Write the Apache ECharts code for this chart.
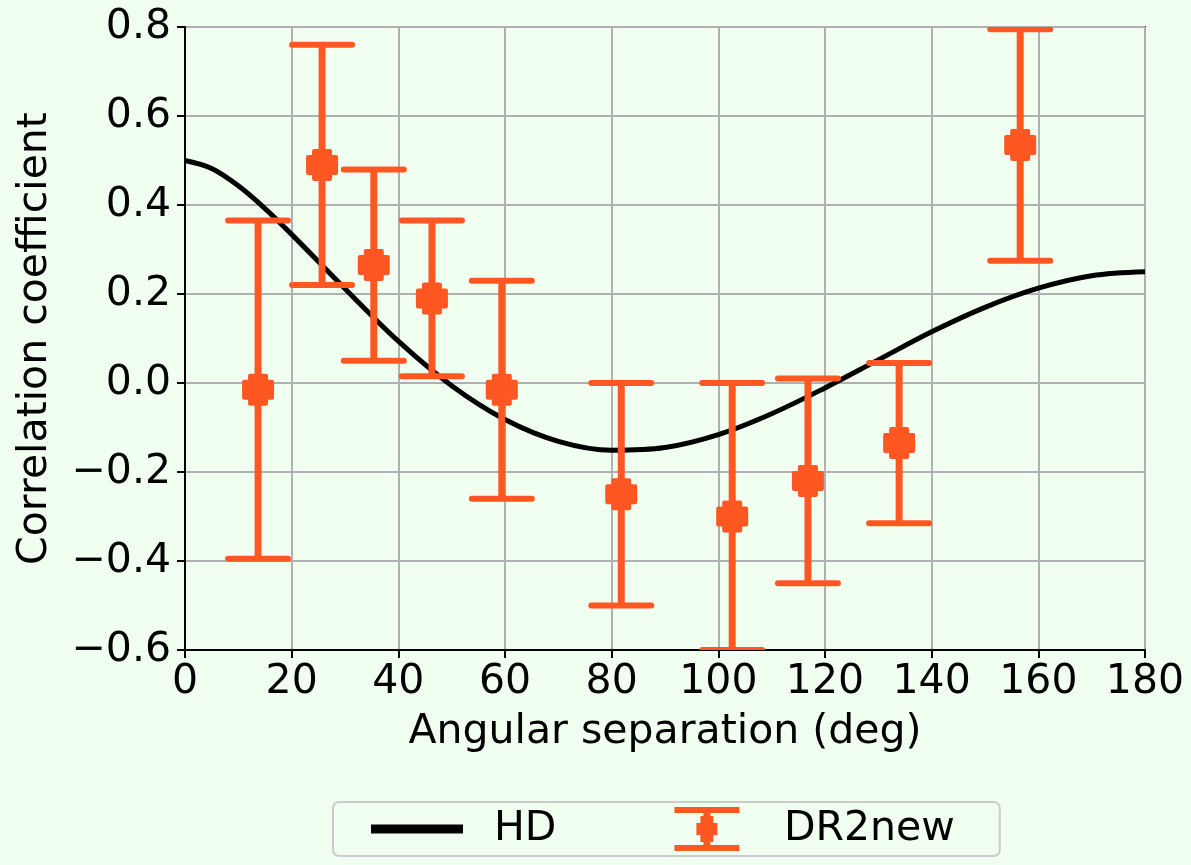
<!DOCTYPE html>
<html>
<head>
<meta charset="utf-8">
<script src="https://cdn.jsdelivr.net/npm/echarts@6/dist/echarts.min.js"></script>
<style>
html,body{margin:0;padding:0;background:#f0fff0;}
#main{width:1191px;height:865px;}
</style>
</head>
<body>
<div id="main"></div>
<script>
// Hellings-Downs curve (angle in deg, correlation)
const hdAngles = [0, 5, 10, 15, 20, 30, 40, 50, 60, 70, 80, 90, 100, 110, 120, 130, 140, 150, 160, 170, 180];
const hdValues = [0.5, 0.482, 0.443, 0.392, 0.334, 0.212, 0.094, -0.006, -0.082, -0.131, -0.151, -0.145, -0.116, -0.069, -0.011, 0.052, 0.115, 0.170, 0.213, 0.241, 0.25];

// DR2new binned correlations
const binAngles = [13.7, 25.7, 35.4, 46.3, 59.4, 81.8, 102.6, 116.8, 133.9, 156.6];
const binValues = [-0.015, 0.49, 0.265, 0.19, -0.015, -0.25, -0.30, -0.22, -0.135, 0.535];
const binErrors = [0.38, 0.27, 0.215, 0.175, 0.245, 0.25, 0.30, 0.23, 0.18, 0.26];

const xTicks = [0, 20, 40, 60, 80, 100, 120, 140, 160, 180];
const yTicks = [-0.6, -0.4, -0.2, 0.0, 0.2, 0.4, 0.6, 0.8];

const ORANGE = '#ff5722';
const FONT = 'DejaVu Sans';
const FS = 41;

const chart = echarts.init(document.getElementById('main'), null, {renderer: 'canvas'});

const hdData = hdAngles.map((a, i) => [a, hdValues[i]]);
const errData = binAngles.map((a, i) => [a, binValues[i], binValues[i] - binErrors[i], binValues[i] + binErrors[i]]);

function renderErr(params, api) {
  const x = api.value(0);
  const c = api.coord([x, api.value(1)]);
  const lo = api.coord([x, api.value(2)]);
  const hi = api.coord([x, api.value(3)]);
  const capHalf = 30;
  const s = {stroke: ORANGE, lineWidth: 7, lineCap: 'butt'};
  const capStyle = {stroke: ORANGE, lineWidth: 6, lineCap: 'round'};
  const a = 14, b = 8;
  const pts = [[-b,-a],[b,-a],[b,-b],[a,-b],[a,b],[b,b],[b,a],[-b,a],[-b,b],[-a,b],[-a,-b],[-b,-b]]
    .map(p => [c[0] + p[0], c[1] + p[1]]);
  return {
    type: 'group',
    children: [
      {type: 'line', shape: {x1: c[0], y1: lo[1], x2: c[0], y2: hi[1]}, style: s},
      {type: 'line', shape: {x1: c[0]-capHalf, y1: lo[1], x2: c[0]+capHalf, y2: lo[1]}, style: capStyle},
      {type: 'line', shape: {x1: c[0]-capHalf, y1: hi[1], x2: c[0]+capHalf, y2: hi[1]}, style: capStyle},
      {type: 'polygon', shape: {points: pts}, style: {fill: ORANGE, stroke: ORANGE, lineWidth: 4, lineJoin: 'round'}}
    ]
  };
}

const fmtY = v => {
  const r = Math.round(v * 10) / 10;
  return (r < 0 ? '\u2212' : '') + Math.abs(r).toFixed(1);
};

const option = {
  backgroundColor: '#f0fff0',
  animation: false,
  textStyle: {fontFamily: FONT},
  grid: {
    left: 185, right: 46, top: 27, bottom: 215,
    show: true, borderColor: '#000', borderWidth: 2, backgroundColor: 'transparent'
  },
  xAxis: {
    type: 'value', min: 0, max: 180, interval: 20,
    name: 'Angular separation (deg)', nameLocation: 'middle', nameGap: 62,
    nameTextStyle: {fontSize: FS, color: '#000', fontFamily: FONT},
    axisLine: {show: true, onZero: false, lineStyle: {color: '#000', width: 2}},
    axisTick: {show: true, length: 8, lineStyle: {color: '#000', width: 2}},
    axisLabel: {fontSize: FS, color: '#000', margin: 12, fontFamily: FONT,
      formatter: v => String(v)},
    splitLine: {show: true, lineStyle: {color: '#b0b0b0', width: 2}}
  },
  yAxis: {
    type: 'value', min: -0.6, max: 0.8, interval: 0.2,
    name: 'Correlation coefficient', nameLocation: 'middle', nameGap: 129,
    nameTextStyle: {fontSize: FS, color: '#000', fontFamily: FONT},
    axisLine: {show: true, onZero: false, lineStyle: {color: '#000', width: 2}},
    axisTick: {show: true, length: 8, lineStyle: {color: '#000', width: 2}},
    axisLabel: {fontSize: FS, color: '#000', margin: 14, fontFamily: FONT, formatter: fmtY},
    splitLine: {show: true, lineStyle: {color: '#b0b0b0', width: 2}}
  },
  legend: {
    left: 333, top: 802,
    padding: [5, 45, 5, 38],
    borderColor: '#cccccc', borderWidth: 2, borderRadius: 6,
    backgroundColor: '#f0fff0',
    itemWidth: 92, itemHeight: 44, itemGap: 118,
    textStyle: {fontSize: FS, color: '#000', fontFamily: FONT, padding: [0, 0, 0, 26]},
    data: [
      {name: 'HD', icon: 'path://M0,0L92,0L92,9L0,9Z', itemStyle: {color: '#000'}},
      {name: 'DR2new', icon: 'path://M0,0L65,0L65,6L0,6Z M0,38L65,38L65,44L0,44Z M29,0L36,0L36,44L29,44Z M26,9L39,9L39,16L43,16L43,28L39,28L39,35L26,35L26,28L22,28L22,16L26,16Z', itemStyle: {color: ORANGE}}
    ]
  },
  series: [
    {
      name: 'HD', type: 'line', data: hdData, smooth: 0.35, showSymbol: false,
      lineStyle: {color: '#000', width: 5}, itemStyle: {color: '#000'}, z: 3
    },
    {
      name: 'DR2new', type: 'custom', data: errData, renderItem: renderErr,
      encode: {x: 0, y: [1, 2, 3]}, clip: true, itemStyle: {color: ORANGE}, z: 4
    }
  ]
};
chart.setOption(option);
</script>
</body>
</html>
